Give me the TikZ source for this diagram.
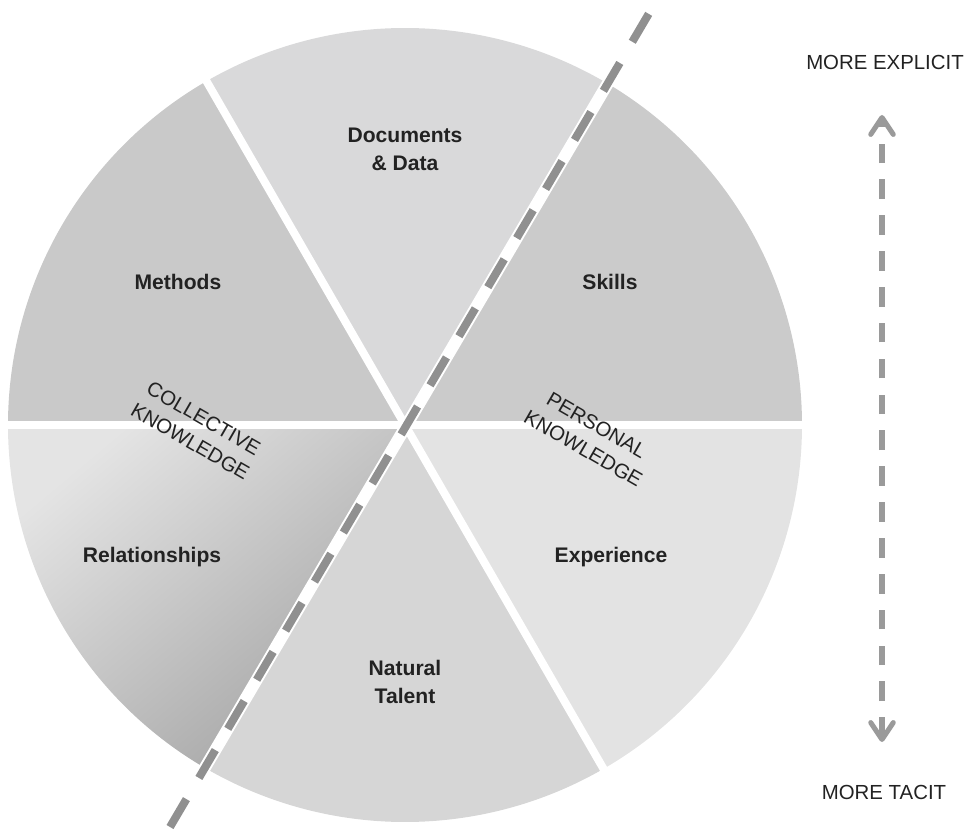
\documentclass[tikz,border=0pt]{standalone}
\usepackage{fontspec}
\setmainfont{Liberation Sans}
\usetikzlibrary{arrows.meta}

\definecolor{skillsgray}{HTML}{CBCBCB}
\definecolor{docsgray}{HTML}{D9D9DA}
\definecolor{methodsgray}{HTML}{C9C9C9}
\definecolor{relatelight}{HTML}{E4E4E4}
\definecolor{relatedark}{HTML}{A4A4A4}
\definecolor{talentgray}{HTML}{D6D6D6}
\definecolor{expgray}{HTML}{E3E3E3}
\definecolor{dashgray}{HTML}{909090}
\definecolor{arrowgray}{HTML}{9A9A9A}
\definecolor{inkgray}{HTML}{222222}

\begin{document}
\begin{tikzpicture}[x=0.025cm,y=0.025cm,
  slice label/.style={font=\bfseries\fontsize{15}{20}\selectfont,align=center,text=inkgray},
  kind label/.style={font=\fontsize{14.5}{19}\selectfont,align=center,rotate=-30,text=inkgray},
  axis label/.style={font=\fontsize{14.5}{17.5}\selectfont,text=inkgray},
  gap line/.style={white,line width=5.7pt},
  split line/.style={dashgray,line width=5.7pt,dash pattern=on 23pt off 17.5pt},
  scale arrow/.style={arrowgray,line width=3.6pt,dash pattern=on 14pt off 11.5pt,
    {Straight Barb[length=12pt,width=16pt,round]}-{Straight Barb[length=12pt,width=16pt,round]}}]
  \useasboundingbox (0,0) rectangle (969,831);

  % the six slices
  \coordinate (c) at (405,406);
  \fill[skillsgray] (c) -- ++(0:397) arc (0:60:397) -- cycle;
  \fill[docsgray] (c) -- ++(60:397) arc (60:120:397) -- cycle;
  \fill[methodsgray] (c) -- ++(120:397) arc (120:180:397) -- cycle;
  \shade[top color=relatelight,bottom color=relatedark,shading angle=40]
    (c) -- ++(180:397) arc (180:240:397) -- cycle;
  \fill[talentgray] (c) -- ++(240:397) arc (240:300:397) -- cycle;
  \fill[expgray] (c) -- ++(300:397) arc (300:360:397) -- cycle;

  % white gaps between slices
  \foreach \a in {0,120,180,300}
    \draw[gap line] (c) -- ++(\a:410);

  % dashed split, collective vs personal
  \coordinate (split low) at (170,4);
  \coordinate (split high) at (651,821);
  \draw[white,line width=8.5pt] (split low) -- (split high);
  \draw[split line] (split low) -- (split high);

  \node[slice label] (docs) at (405,682) {Documents\\\& Data};
  \node[slice label] (methods) at (178,549) {Methods};
  \node[slice label] (skills) at (610,549) {Skills};
  \node[slice label] (relations) at (152,274) {Relationships};
  \node[slice label] (experience) at (611,274) {Experience};
  \node[slice label] (talent) at (405,149) {Natural\\Talent};

  \node[kind label] (collective) at (197,401) {COLLECTIVE\\KNOWLEDGE};
  \node[kind label] (personal) at (590,394) {PERSONAL\\KNOWLEDGE};

  \node[axis label] (explicit) at (885,769) {MORE EXPLICIT};
  \node[axis label] (tacit) at (884,39) {MORE TACIT};

  \coordinate (tacit end) at (882,89);
  \coordinate (explicit end) at (882,716);
  \draw[scale arrow] (tacit end) -- (explicit end);
\end{tikzpicture}
\end{document}
